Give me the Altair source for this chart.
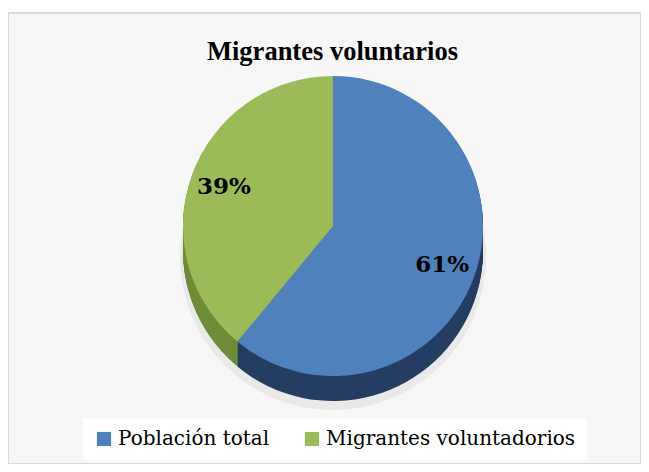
import altair as alt
import pandas as pd

categories = ["Población total", "Migrantes voluntadorios"]
values = [61, 39]
labels = ["61%", "39%"]
top_colors = ["#4F81BD", "#9BBB59"]
side_colors = ["#253E62", "#6F8C3A"]
order_idx = [0, 1]

df = pd.DataFrame({
    "cat": categories,
    "value": values,
    "label": labels,
    "side": side_colors,
    "idx": order_idx,
})

CX, CY, R = 325, 213, 150
DEPTH = 25

base = alt.Chart(df)
theta = alt.Theta("value:Q", stack=True)
order = alt.Order("idx:Q")

layers = []
# soft shadow
layers.append(
    base.mark_arc(radius=R + 3, x=CX, y=CY, yOffset=DEPTH + 6, opacity=0.12).encode(
        theta=theta, fill=alt.value("#808080"), order=order
    )
)
# 3D side
for k in range(DEPTH, 0, -1):
    layers.append(
        base.mark_arc(radius=R, x=CX, y=CY, yOffset=k).encode(
            theta=theta, fill=alt.Fill("side:N", scale=None, legend=None), order=order
        )
    )
# top surface
layers.append(
    base.mark_arc(radius=R, x=CX, y=CY).encode(
        theta=theta,
        color=alt.Color(
            "cat:N",
            scale=alt.Scale(domain=categories, range=top_colors),
            legend=alt.Legend(
                orient="none",
                legendX=75,
                legendY=405,
                direction="horizontal",
                title=None,
                fillColor="white",
                padding=11,
                symbolType="square",
                symbolSize=200,
                symbolStrokeWidth=0,
                labelFont="DejaVu Serif",
                labelFontSize=20,
                labelColor="black",
                labelLimit=400,
                labelOffset=4,
                columnPadding=32,
            ),
        ),
        order=order,
    )
)
# percentage labels
layers.append(
    base.mark_text(
        radius=116, x=CX, y=CY, font="DejaVu Serif", fontWeight="bold",
        fontSize=23, color="black", align="center", baseline="middle"
    ).encode(theta=theta, text="label:N", order=order)
)

chart = alt.layer(*layers).properties(
    width=633,
    height=451,
    autosize=alt.AutoSizeParams(type="none"),
    padding={"left": 0, "top": 5, "right": 0, "bottom": 0},
    background="white",
    view=alt.ViewBackground(fill="#f7f7f7", stroke="#d9d9d9", strokeWidth=2),
    title=alt.Title(
        "Migrantes voluntarios",
        font="Liberation Serif",
        fontSize=26.5,
        fontWeight="bold",
        color="black",
        anchor="middle",
        frame="group",
        offset=-52,
        dx=8,
    ),
)

chart.save("out.html", embed_options={"renderer": "svg", "actions": False})
